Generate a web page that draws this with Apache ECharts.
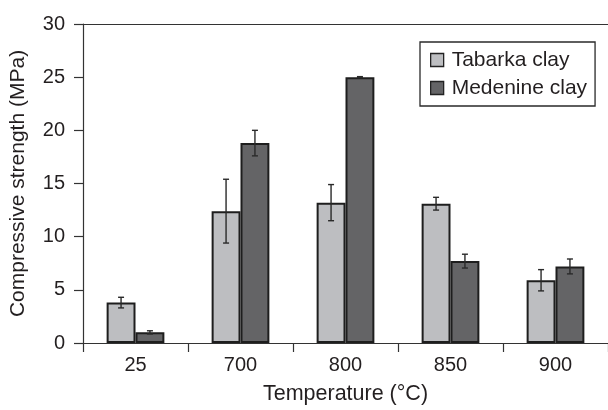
<!DOCTYPE html>
<html>
<head>
<meta charset="utf-8">
<script src="https://cdn.jsdelivr.net/npm/echarts@6/dist/echarts.min.js"></script>
<style>
  html, body { margin: 0; padding: 0; background: #fff; }
  #chart { width: 608px; height: 410px; }
</style>
</head>
<body>
<div id="chart"></div>
<script>
// Compressive strength of fired clay samples, by firing temperature
const temperatures = ['25', '700', '800', '850', '900'];
const tabarka = [3.8, 12.4, 13.2, 13.1, 5.9];
const tabarkaErr = [0.5, 3.0, 1.7, 0.6, 1.0];
const medenine = [1.0, 18.8, 25.0, 7.7, 7.2];
const medenineErr = [0.15, 1.2, 0.05, 0.65, 0.7];
const yTicks = { min: 0, max: 30, interval: 5 };

const INK = '#231f20';
const AXIS = '#333';
const BAR_FRACTION = 0.275;

function errorData(values, errs) {
  return values.map((v, i) => [i, v, errs[i]]);
}

// Draws a vertical whisker with caps over one bar of a two-bar group
function whisker(side) {
  return function (params, api) {
    const idx = api.value(0);
    const val = api.value(1);
    const err = api.value(2);
    const band = api.size([1, 0])[0];
    const dx = side * band * BAR_FRACTION / 2;
    const hi = api.coord([idx, val + err]);
    const lo = api.coord([idx, val - err]);
    const x = hi[0] + dx;
    const cap = 3;
    const style = { stroke: '#2a2a2a', lineWidth: 1.4 };
    return {
      type: 'group',
      children: [
        { type: 'line', shape: { x1: x, y1: hi[1], x2: x, y2: lo[1] }, style: style },
        { type: 'line', shape: { x1: x - cap, y1: hi[1], x2: x + cap, y2: hi[1] }, style: style },
        { type: 'line', shape: { x1: x - cap, y1: lo[1], x2: x + cap, y2: lo[1] }, style: style }
      ]
    };
  };
}

const chart = echarts.init(document.getElementById('chart'), null, { renderer: 'canvas' });

chart.setOption({
  animation: false,
  backgroundColor: '#ffffff',
  textStyle: { fontFamily: 'Liberation Sans, Arial, sans-serif', color: INK },
  grid: { left: 82, top: 24, width: 528, height: 322.7 },
  legend: {
    orient: 'vertical',
    left: 420, top: 42,
    padding: [6, 8, 6, 10],
    itemGap: 4,
    itemWidth: 13, itemHeight: 13,
    icon: 'rect',
    borderColor: '#2a2a2a', borderWidth: 1.3,
    backgroundColor: '#fff',
    data: ['Tabarka clay', 'Medenine clay'],
    textStyle: { fontSize: 21, color: INK, lineHeight: 24, padding: [0, 0, 0, 3] },
    itemStyle: { borderColor: '#222', borderWidth: 1.3 }
  },
  xAxis: [
    {
      type: 'category',
      data: temperatures,
      name: 'Temperature (°C)',
      nameLocation: 'middle',
      nameGap: 40,
      nameTextStyle: { fontSize: 21.5, color: INK },
      axisLine: { lineStyle: { color: AXIS, width: 1.2 } },
      axisTick: { show: true, length: 9, lineStyle: { color: AXIS, width: 1.2 } },
      axisLabel: { fontSize: 20, color: INK, margin: 12 },
      splitLine: { show: false }
    },
    {
      // frame line along the top of the plot
      type: 'category',
      data: temperatures,
      position: 'top',
      axisLine: { show: true, lineStyle: { color: AXIS, width: 1.2 } },
      axisTick: { show: false },
      axisLabel: { show: false },
      splitLine: { show: false }
    }
  ],
  yAxis: {
    type: 'value',
    min: yTicks.min, max: yTicks.max, interval: yTicks.interval,
    name: 'Compressive strength (MPa)',
    nameLocation: 'middle',
    nameGap: 54,
    nameTextStyle: { fontSize: 21, color: INK },
    axisLine: { show: true, lineStyle: { color: AXIS, width: 1.2 } },
    axisTick: { show: true, length: 9, lineStyle: { color: AXIS, width: 1.2 } },
    axisLabel: { fontSize: 20, color: INK, margin: 18 },
    splitLine: { show: false }
  },
  series: [
    {
      name: 'Tabarka clay',
      type: 'bar',
      data: tabarka,
      barWidth: (BAR_FRACTION * 100) + '%',
      barGap: '0%',
      itemStyle: { color: '#bdbec1', borderColor: '#1e1e1e', borderWidth: 2 }
    },
    {
      name: 'Medenine clay',
      type: 'bar',
      data: medenine,
      barWidth: (BAR_FRACTION * 100) + '%',
      barGap: '0%',
      itemStyle: { color: '#646466', borderColor: '#1e1e1e', borderWidth: 2 }
    },
    {
      name: 'Tabarka error',
      type: 'custom',
      renderItem: whisker(-1),
      data: errorData(tabarka, tabarkaErr),
      encode: { x: 0, y: 1 },
      z: 5
    },
    {
      name: 'Medenine error',
      type: 'custom',
      renderItem: whisker(1),
      data: errorData(medenine, medenineErr),
      encode: { x: 0, y: 1 },
      z: 5
    }
  ]
});
</script>
</body>
</html>
